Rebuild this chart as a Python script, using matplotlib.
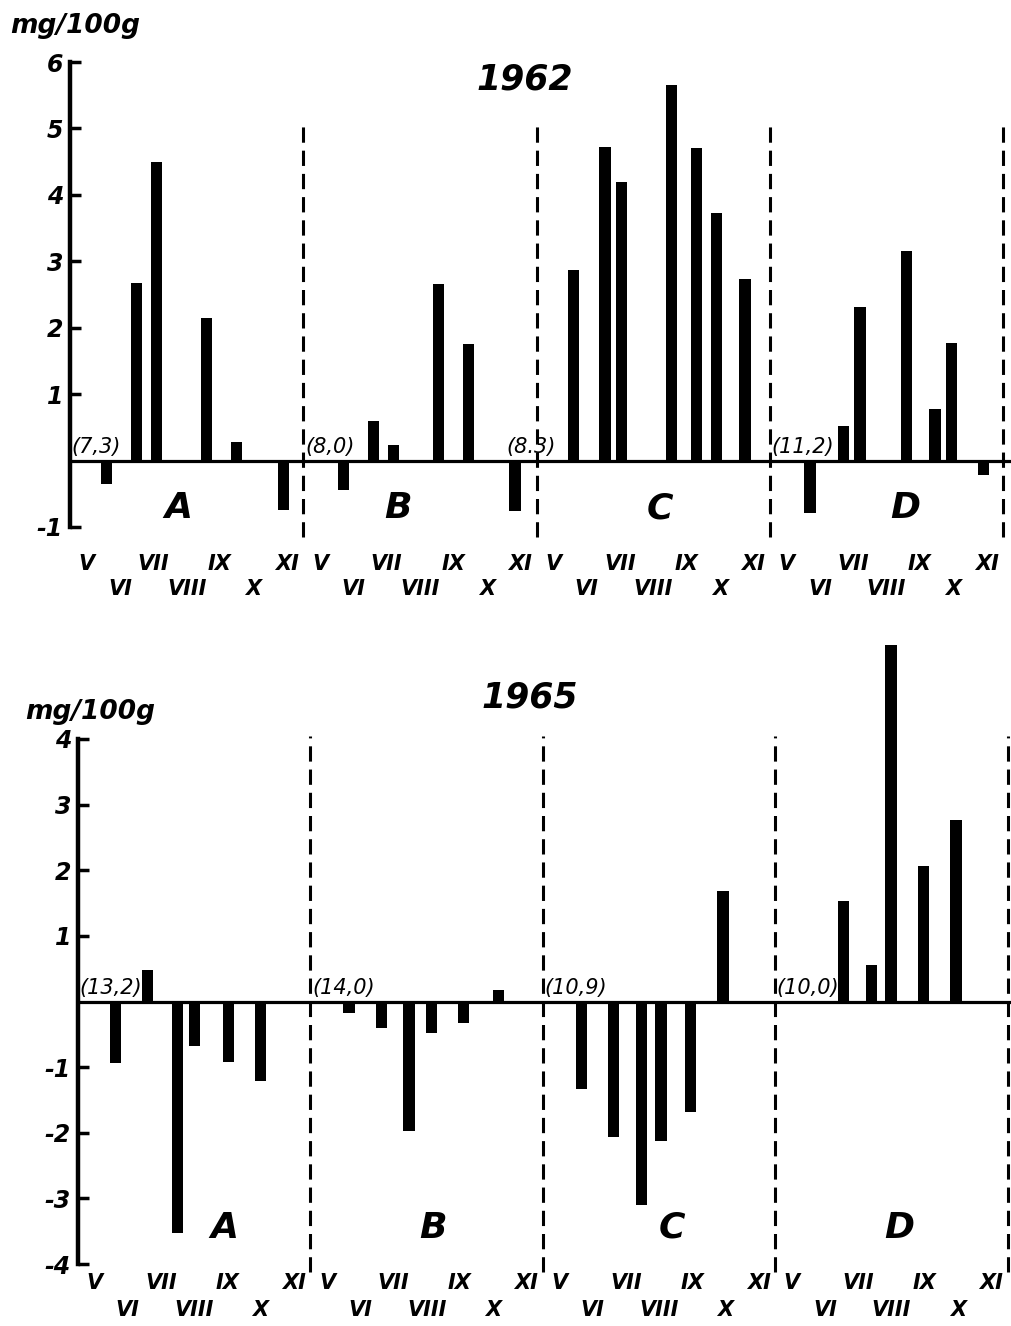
import matplotlib
matplotlib.use("Agg")
import matplotlib.pyplot as plt

# ---------------- data ----------------
months = ['V', 'VI', 'VII', 'VIII', 'IX', 'X', 'XI']
sections = ['A', 'B', 'C', 'D']

# reference values (in parentheses) per section
ref_1962 = ['(7,3)', '(8,0)', '(8.3)', '(11,2)']
ref_1965 = ['(13,2)', '(14,0)', '(10,9)', '(10,0)']

# sampling dates (fractional month number) and changes in mg/100g, 1962
dates_1962_A = [5.6, 6.5, 7.1, 8.6, 9.5, 10.9]
vals_1962_A = [-0.35, 2.68, 4.5, 2.15, 0.28, -0.75]
dates_1962_B = [5.7, 6.6, 7.2, 8.55, 9.45, 10.85]
vals_1962_B = [-0.44, 0.6, 0.24, 2.66, 1.75, -0.76]
dates_1962_C = [5.6, 6.55, 7.05, 8.55, 9.3, 9.9, 10.75]
vals_1962_C = [2.87, 4.72, 4.2, 5.65, 4.7, 3.73, 2.74]
dates_1962_D = [5.7, 6.7, 7.2, 8.6, 9.45, 9.95, 10.9]
vals_1962_D = [-0.79, 0.52, 2.31, 3.16, 0.78, 1.77, -0.22]

# 1965
dates_1965_A = [5.63, 6.6, 7.5, 8.0, 9.03, 10.0]
vals_1965_A = [-0.93, 0.48, -3.53, -0.68, -0.92, -1.21]
dates_1965_B = [5.66, 6.64, 7.47, 8.14, 9.12, 10.16]
vals_1965_B = [-0.17, -0.4, -1.97, -0.48, -0.33, 0.17]
dates_1965_C = [5.66, 6.64, 7.47, 8.06, 8.95, 9.93]
vals_1965_C = [-1.33, -2.07, -3.1, -2.13, -1.68, 1.68]
dates_1965_D = [6.56, 7.39, 7.99, 8.97, 9.95]
vals_1965_D = [1.53, 0.55, 5.43, 2.06, 2.77]

yticks_1962 = [-1, 1, 2, 3, 4, 5, 6]
yticks_1965 = [-4, -3, -2, -1, 1, 2, 3, 4]

# ---------------- drawing ----------------
FONT = dict(family='DejaVu Sans', weight='bold', style='italic', color='black')
W, H = 1011, 1326
fig = plt.figure(figsize=(W / 100, H / 100), dpi=100)
fig.patch.set_facecolor('white')

MONTH0 = 4.5   # month value at left edge of each section
SEC_W = 7.0


def px(x):
    return x / W


def py(y):
    return 1 - y / H


def panel(rect, xlim, ylim, yticks, dates, vals, refs, ref_dx, title, title_xy,
          letter_x, letter_y, upper_y, lower_y, dash_y, unit_xy):
    ax = fig.add_axes(rect)
    ax.set_xlim(*xlim)
    ax.set_ylim(*ylim)
    for s in ['top', 'right', 'bottom']:
        ax.spines[s].set_visible(False)
    ax.spines['left'].set_linewidth(3.2)
    ax.set_xticks([])
    ax.set_yticks(yticks)
    ax.set_yticklabels([('-' + str(-t)) if t < 0 else str(t) for t in yticks],
                       fontsize=17, fontweight='bold', fontstyle='italic')
    ax.tick_params(axis='y', direction='in', length=8, width=2.5, pad=5)
    ax.axhline(0, color='black', lw=2.3, zorder=3)

    for k in range(4):
        x0 = k * SEC_W
        xs = [x0 + d - MONTH0 for d in dates[k]]
        ax.bar(xs, vals[k], width=0.34, color='black', zorder=4, clip_on=False)
        # divider
        ax.plot([x0 + SEC_W, x0 + SEC_W], dash_y, color='black', lw=2.2,
                ls=(0, (5, 2.6)), clip_on=False, zorder=2)
        # reference value
        ax.text(x0 + ref_dx[k], 0.06, refs[k], fontsize=15, ha='left',
                va='bottom', family='DejaVu Sans', style='italic',
                color='black', zorder=5)
        # section letter
        ax.text(x0 + letter_x[k], letter_y, sections[k], fontsize=26,
                ha='center', va='center', **FONT)
        # month labels
        for i, m in enumerate(months):
            yy = upper_y if i % 2 == 0 else lower_y
            ax.text(x0 + i + 0.5, yy, m, fontsize=15, ha='center', va='center',
                    clip_on=False, **FONT)
    ax.text(title_xy[0], title_xy[1], title, fontsize=25, ha='center',
            va='center', **FONT)
    fig.text(unit_xy[0], unit_xy[1], 'mg/100g', fontsize=19, ha='center',
             va='center', **FONT)
    return ax


# top panel (1962): y=6 at 62px, y=-1 at 527px ; axis at x=70px
top_rect = [px(70), py(527), 1 - px(70), (527 - 62) / H]
panel(top_rect, (0, (W - 70) / 33.33), (-1, 6), yticks_1962,
      [dates_1962_A, dates_1962_B, dates_1962_C, dates_1962_D],
      [vals_1962_A, vals_1962_B, vals_1962_C, vals_1962_D],
      ref_1962, [0.05, 0.05, -0.9, 0.05], '1962', (13.65, 5.73),
      [3.25, 2.85, 3.7, 4.05], -0.72, -1.55, -1.94, (-1.15, 5.1),
      (px(75), py(26)))

# bottom panel (1965): y=4 at 739px, y=-4 at 1264px ; axis at x=78px
bot_rect = [px(78), py(1264), 1 - px(78), (1264 - 739) / H]
panel(bot_rect, (0, (W - 78) / 33.2), (-4, 4), yticks_1965,
      [dates_1965_A, dates_1965_B, dates_1965_C, dates_1965_D],
      [vals_1965_A, vals_1965_B, vals_1965_C, vals_1965_D],
      ref_1965, [0.05, 0.05, 0.05, 0.05], '1965', (13.6, 4.64),
      [4.4, 3.7, 3.9, 3.75], -3.45, -4.29, -4.7, (-4.12, 4.05),
      (px(90), py(712)))

fig.savefig('out.png', dpi=100, facecolor='white')
